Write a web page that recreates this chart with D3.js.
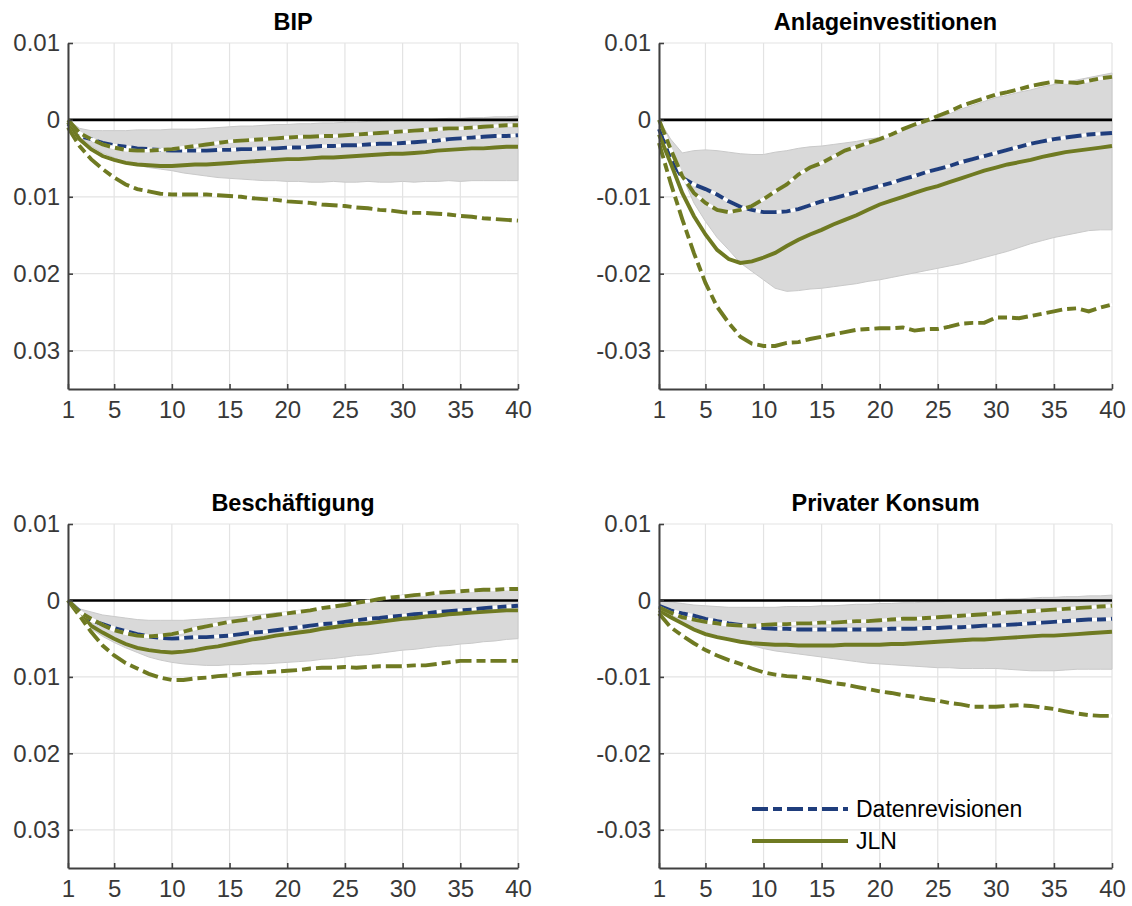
<!DOCTYPE html>
<html>
<head>
<meta charset="utf-8">
<script src="https://cdn.jsdelivr.net/npm/d3@7"></script>
<style>
body { margin: 0; background: #fff; }
svg text { font-family: "Liberation Sans", Arial, Helvetica, sans-serif; }
</style>
</head>
<body>
<svg id="chart" width="1132" height="906"></svg>
<script>
// Achsen und Beschriftungen
var horizons = d3.range(1, 41);
var xTicks = [1, 5, 10, 15, 20, 25, 30, 35, 40];
var yTicks = [0.01, 0, -0.01, -0.02, -0.03];
var yLabelsLeft = ["0.01", "0", "0.01", "0.02", "0.03"];
var yLabelsRight = ["0.01", "0", "-0.01", "-0.02", "-0.03"];
var titles = ["BIP", "Anlageinvestitionen", "Beschäftigung", "Privater Konsum"];
var legendLabels = ["Datenrevisionen", "JLN"];

// BIP
var bipBandUp = [0,-0.0011,-0.0014,-0.0014,-0.0014,-0.0014,-0.0013,-0.0013,-0.0013,-0.0012,-0.0012,-0.0012,-0.0011,-0.0010,-0.0009,-0.0008,-0.0008,-0.0007,-0.0006,-0.0006,-0.0005,-0.0005,-0.0004,-0.0004,-0.0003,-0.0003,-0.0002,-0.0002,-0.0001,-0.0001,0,0,0.0001,0.0002,0.0002,0.0003,0.0003,0.0004,0.0004,0.0005];
var bipBandLo = [0,-0.0021,-0.0034,-0.0043,-0.0049,-0.0056,-0.0059,-0.0062,-0.0064,-0.0066,-0.0069,-0.0071,-0.0073,-0.0075,-0.0076,-0.0077,-0.0078,-0.0079,-0.0079,-0.0080,-0.0080,-0.0081,-0.0081,-0.0080,-0.0081,-0.0081,-0.0080,-0.0081,-0.0081,-0.0080,-0.0081,-0.0080,-0.0080,-0.0079,-0.0080,-0.0079,-0.0079,-0.0079,-0.0079,-0.0079];
var bipDaten = [-0.0005,-0.0021,-0.0025,-0.0030,-0.0033,-0.0035,-0.0037,-0.0038,-0.0039,-0.0040,-0.0040,-0.0040,-0.0040,-0.0039,-0.0039,-0.0038,-0.0038,-0.0037,-0.0037,-0.0036,-0.0036,-0.0035,-0.0034,-0.0034,-0.0033,-0.0033,-0.0032,-0.0031,-0.0031,-0.0030,-0.0029,-0.0028,-0.0027,-0.0025,-0.0024,-0.0023,-0.0022,-0.0021,-0.0021,-0.0020];
var bipJln = [-0.0003,-0.0025,-0.0038,-0.0047,-0.0052,-0.0056,-0.0058,-0.0059,-0.0060,-0.0060,-0.0059,-0.0058,-0.0058,-0.0057,-0.0056,-0.0055,-0.0054,-0.0053,-0.0052,-0.0051,-0.0051,-0.0050,-0.0049,-0.0049,-0.0048,-0.0047,-0.0046,-0.0045,-0.0044,-0.0044,-0.0043,-0.0042,-0.0040,-0.0039,-0.0038,-0.0037,-0.0037,-0.0036,-0.0035,-0.0035];
var bipJlnUp = [0,-0.0017,-0.0025,-0.0032,-0.0036,-0.0039,-0.0040,-0.0040,-0.0039,-0.0038,-0.0036,-0.0034,-0.0032,-0.0030,-0.0028,-0.0027,-0.0026,-0.0025,-0.0024,-0.0023,-0.0022,-0.0022,-0.0021,-0.0021,-0.0020,-0.0019,-0.0018,-0.0017,-0.0016,-0.0015,-0.0014,-0.0013,-0.0012,-0.0011,-0.0011,-0.0010,-0.0009,-0.0008,-0.0007,-0.0007];
var bipJlnLo = [-0.0010,-0.0034,-0.0051,-0.0064,-0.0075,-0.0084,-0.0090,-0.0093,-0.0096,-0.0097,-0.0097,-0.0097,-0.0097,-0.0098,-0.0099,-0.0100,-0.0102,-0.0103,-0.0104,-0.0106,-0.0107,-0.0108,-0.0110,-0.0111,-0.0112,-0.0114,-0.0115,-0.0117,-0.0118,-0.0120,-0.0121,-0.0121,-0.0122,-0.0123,-0.0125,-0.0126,-0.0128,-0.0129,-0.0130,-0.0131];

// Anlageinvestitionen
var invBandUp = [0,-0.0025,-0.0043,-0.0040,-0.0039,-0.0040,-0.0042,-0.0044,-0.0045,-0.0045,-0.0042,-0.0040,-0.0037,-0.0035,-0.0034,-0.0032,-0.0030,-0.0028,-0.0025,-0.0023,-0.0019,-0.0014,-0.0008,-0.0003,0.0003,0.0008,0.0014,0.0019,0.0024,0.0029,0.0032,0.0036,0.0039,0.0043,0.0046,0.0049,0.0052,0.0055,0.0058,0.0061];
var invBandLo = [0,-0.0034,-0.0073,-0.0108,-0.0132,-0.0153,-0.0169,-0.0186,-0.0197,-0.0208,-0.0219,-0.0223,-0.0222,-0.0220,-0.0219,-0.0217,-0.0215,-0.0213,-0.0210,-0.0208,-0.0205,-0.0202,-0.0199,-0.0196,-0.0193,-0.0190,-0.0187,-0.0183,-0.0179,-0.0175,-0.0171,-0.0166,-0.0161,-0.0157,-0.0153,-0.0150,-0.0147,-0.0144,-0.0143,-0.0143];
var invDaten = [-0.0012,-0.0051,-0.0075,-0.0084,-0.0090,-0.0097,-0.0106,-0.0113,-0.0117,-0.0120,-0.0120,-0.0119,-0.0116,-0.0111,-0.0106,-0.0102,-0.0098,-0.0094,-0.0090,-0.0086,-0.0082,-0.0077,-0.0073,-0.0068,-0.0064,-0.0060,-0.0055,-0.0051,-0.0047,-0.0043,-0.0039,-0.0035,-0.0031,-0.0028,-0.0025,-0.0023,-0.0021,-0.0019,-0.0018,-0.0017];
var invJln = [-0.0019,-0.0056,-0.0095,-0.0125,-0.0149,-0.0169,-0.0181,-0.0186,-0.0184,-0.0179,-0.0173,-0.0164,-0.0156,-0.0149,-0.0143,-0.0136,-0.0130,-0.0124,-0.0117,-0.0110,-0.0105,-0.0100,-0.0095,-0.0090,-0.0086,-0.0081,-0.0076,-0.0071,-0.0066,-0.0062,-0.0058,-0.0055,-0.0052,-0.0048,-0.0045,-0.0042,-0.0040,-0.0038,-0.0036,-0.0034];
var invJlnUp = [0,-0.0038,-0.0073,-0.0095,-0.0108,-0.0117,-0.0120,-0.0117,-0.0112,-0.0103,-0.0093,-0.0084,-0.0071,-0.0062,-0.0056,-0.0048,-0.0040,-0.0035,-0.0030,-0.0025,-0.0019,-0.0012,-0.0006,-0.0001,0.0005,0.0011,0.0018,0.0023,0.0028,0.0033,0.0036,0.0040,0.0044,0.0047,0.0050,0.0049,0.0048,0.0051,0.0054,0.0056];
var invJlnLo = [-0.0030,-0.0082,-0.0129,-0.0173,-0.0212,-0.0243,-0.0264,-0.0282,-0.0291,-0.0294,-0.0294,-0.0290,-0.0289,-0.0285,-0.0282,-0.0279,-0.0276,-0.0273,-0.0272,-0.0271,-0.0271,-0.0270,-0.0274,-0.0272,-0.0272,-0.0269,-0.0265,-0.0264,-0.0264,-0.0257,-0.0257,-0.0258,-0.0255,-0.0252,-0.0249,-0.0246,-0.0245,-0.0249,-0.0244,-0.0240];

// Beschäftigung
var empBandUp = [0,-0.0011,-0.0015,-0.0019,-0.0021,-0.0023,-0.0025,-0.0026,-0.0026,-0.0026,-0.0026,-0.0025,-0.0024,-0.0023,-0.0022,-0.0021,-0.0019,-0.0018,-0.0016,-0.0015,-0.0013,-0.0012,-0.0010,-0.0009,-0.0007,-0.0004,-0.0001,0.0002,0.0005,0.0007,0.0008,0.0009,0.0010,0.0011,0.0012,0.0013,0.0014,0.0015,0.0016,0.0017];
var empBandLo = [0,-0.0020,-0.0037,-0.0047,-0.0055,-0.0062,-0.0068,-0.0074,-0.0078,-0.0081,-0.0083,-0.0084,-0.0085,-0.0085,-0.0084,-0.0084,-0.0083,-0.0083,-0.0082,-0.0081,-0.0080,-0.0079,-0.0077,-0.0076,-0.0074,-0.0072,-0.0071,-0.0069,-0.0067,-0.0065,-0.0064,-0.0062,-0.0060,-0.0059,-0.0057,-0.0056,-0.0054,-0.0053,-0.0051,-0.0050];
var empDaten = [0,-0.0014,-0.0026,-0.0031,-0.0036,-0.0040,-0.0044,-0.0047,-0.0049,-0.0050,-0.0049,-0.0048,-0.0048,-0.0047,-0.0046,-0.0044,-0.0042,-0.0041,-0.0039,-0.0037,-0.0035,-0.0033,-0.0031,-0.0030,-0.0028,-0.0026,-0.0024,-0.0023,-0.0021,-0.0020,-0.0018,-0.0017,-0.0015,-0.0014,-0.0013,-0.0012,-0.0010,-0.0009,-0.0008,-0.0007];
var empJln = [0,-0.0017,-0.0033,-0.0042,-0.0050,-0.0057,-0.0062,-0.0065,-0.0067,-0.0068,-0.0067,-0.0065,-0.0062,-0.0060,-0.0057,-0.0054,-0.0051,-0.0049,-0.0046,-0.0044,-0.0042,-0.0040,-0.0037,-0.0035,-0.0033,-0.0031,-0.0030,-0.0028,-0.0026,-0.0024,-0.0023,-0.0021,-0.0020,-0.0018,-0.0017,-0.0016,-0.0015,-0.0014,-0.0013,-0.0013];
var empJlnUp = [0,-0.0015,-0.0024,-0.0032,-0.0039,-0.0043,-0.0046,-0.0047,-0.0046,-0.0044,-0.0041,-0.0037,-0.0034,-0.0031,-0.0028,-0.0026,-0.0024,-0.0021,-0.0019,-0.0017,-0.0015,-0.0013,-0.0010,-0.0008,-0.0006,-0.0003,-0.0001,0.0002,0.0004,0.0005,0.0007,0.0008,0.0010,0.0011,0.0012,0.0013,0.0014,0.0014,0.0015,0.0015];
var empJlnLo = [0,-0.0020,-0.0041,-0.0059,-0.0072,-0.0082,-0.0089,-0.0096,-0.0101,-0.0104,-0.0104,-0.0102,-0.0101,-0.0099,-0.0098,-0.0096,-0.0095,-0.0094,-0.0093,-0.0092,-0.0091,-0.0089,-0.0088,-0.0088,-0.0087,-0.0088,-0.0087,-0.0086,-0.0086,-0.0086,-0.0085,-0.0085,-0.0083,-0.0081,-0.0079,-0.0079,-0.0079,-0.0079,-0.0079,-0.0079];

// Privater Konsum
var konBandUp = [0,-0.0002,-0.0004,-0.0006,-0.0007,-0.0008,-0.0009,-0.0009,-0.0009,-0.0009,-0.0009,-0.0008,-0.0008,-0.0008,-0.0007,-0.0007,-0.0006,-0.0005,-0.0005,-0.0004,-0.0004,-0.0003,-0.0003,-0.0002,-0.0002,-0.0001,-0.0001,0,0,0.0001,0.0002,0.0002,0.0003,0.0004,0.0004,0.0005,0.0005,0.0006,0.0006,0.0007];
var konBandLo = [-0.0005,-0.0019,-0.0031,-0.0039,-0.0045,-0.0049,-0.0052,-0.0055,-0.0059,-0.0063,-0.0066,-0.0068,-0.0070,-0.0072,-0.0074,-0.0076,-0.0078,-0.0080,-0.0082,-0.0083,-0.0084,-0.0085,-0.0086,-0.0087,-0.0088,-0.0088,-0.0089,-0.0089,-0.0089,-0.0089,-0.0090,-0.0091,-0.0092,-0.0092,-0.0092,-0.0091,-0.0090,-0.0090,-0.0090,-0.0090];
var konDaten = [-0.0007,-0.0013,-0.0017,-0.0020,-0.0024,-0.0027,-0.0030,-0.0032,-0.0034,-0.0036,-0.0037,-0.0037,-0.0038,-0.0038,-0.0038,-0.0038,-0.0038,-0.0038,-0.0038,-0.0038,-0.0037,-0.0037,-0.0037,-0.0036,-0.0036,-0.0035,-0.0035,-0.0034,-0.0033,-0.0033,-0.0032,-0.0031,-0.0030,-0.0029,-0.0028,-0.0027,-0.0026,-0.0025,-0.0025,-0.0024];
var konJln = [-0.0013,-0.0022,-0.0030,-0.0038,-0.0044,-0.0048,-0.0051,-0.0054,-0.0056,-0.0057,-0.0058,-0.0058,-0.0059,-0.0059,-0.0059,-0.0059,-0.0058,-0.0058,-0.0058,-0.0058,-0.0057,-0.0057,-0.0056,-0.0055,-0.0054,-0.0053,-0.0052,-0.0051,-0.0051,-0.0050,-0.0049,-0.0048,-0.0047,-0.0046,-0.0046,-0.0045,-0.0044,-0.0043,-0.0042,-0.0041];
var konJlnUp = [-0.0009,-0.0016,-0.0022,-0.0025,-0.0028,-0.0030,-0.0032,-0.0033,-0.0033,-0.0032,-0.0031,-0.0031,-0.0030,-0.0030,-0.0029,-0.0029,-0.0028,-0.0027,-0.0027,-0.0026,-0.0025,-0.0024,-0.0024,-0.0023,-0.0022,-0.0021,-0.0020,-0.0019,-0.0018,-0.0017,-0.0016,-0.0015,-0.0014,-0.0013,-0.0012,-0.0011,-0.0010,-0.0009,-0.0008,-0.0007];
var konJlnLo = [-0.0017,-0.0035,-0.0046,-0.0056,-0.0065,-0.0072,-0.0078,-0.0083,-0.0089,-0.0094,-0.0097,-0.0099,-0.0100,-0.0102,-0.0105,-0.0108,-0.0110,-0.0113,-0.0116,-0.0119,-0.0121,-0.0124,-0.0126,-0.0129,-0.0131,-0.0134,-0.0136,-0.0139,-0.0139,-0.0139,-0.0138,-0.0137,-0.0138,-0.0140,-0.0142,-0.0145,-0.0148,-0.0150,-0.0151,-0.0151];

var colDaten = "#1f3d7c";
var colJln = "#6f7a22";
var axisCol = "#404040";

// Panels: Position im Bild und zugehörige Reihen
var panels = [
    { title: titles[0], yLabels: yLabelsLeft, x0: 68, x1: 518, y0: 43, y1: 389,
      up: bipBandUp, lo: bipBandLo, daten: bipDaten, jln: bipJln, jlnUp: bipJlnUp, jlnLo: bipJlnLo },
    { title: titles[1], yLabels: yLabelsRight, x0: 659, x1: 1112, y0: 43, y1: 389,
      up: invBandUp, lo: invBandLo, daten: invDaten, jln: invJln, jlnUp: invJlnUp, jlnLo: invJlnLo },
    { title: titles[2], yLabels: yLabelsLeft, x0: 68, x1: 518, y0: 524, y1: 868,
      up: empBandUp, lo: empBandLo, daten: empDaten, jln: empJln, jlnUp: empJlnUp, jlnLo: empJlnLo },
    { title: titles[3], yLabels: yLabelsRight, x0: 659, x1: 1112, y0: 524, y1: 868,
      up: konBandUp, lo: konBandLo, daten: konDaten, jln: konJln, jlnUp: konJlnUp, jlnLo: konJlnLo }
];

var svg = d3.select("#chart");
var dash = "16,5,9,5";

panels.forEach(function (p, pi) {
    var x = d3.scaleLinear().domain([1, 40]).range([p.x0, p.x1]);
    var y = d3.scaleLinear().domain([-0.035, 0.01]).range([p.y1, p.y0]);
    var g = svg.append("g");

    // Gitter
    g.selectAll(".gx").data(xTicks).enter().append("line")
        .attr("x1", function (d) { return x(d); }).attr("x2", function (d) { return x(d); })
        .attr("y1", p.y0).attr("y2", p.y1)
        .attr("stroke", "#e3e3e3").attr("stroke-width", 1.2);
    g.selectAll(".gy").data(yTicks).enter().append("line")
        .attr("x1", p.x0).attr("x2", p.x1)
        .attr("y1", function (d) { return y(d); }).attr("y2", function (d) { return y(d); })
        .attr("stroke", "#e3e3e3").attr("stroke-width", 1.2);

    // Konfidenzband Datenrevisionen
    var area = d3.area()
        .x(function (d, i) { return x(horizons[i]); })
        .y0(function (d, i) { return y(p.lo[i]); })
        .y1(function (d) { return y(d); });
    g.append("path").datum(p.up).attr("d", area)
        .attr("fill", "#d9d9d9").attr("stroke", "#c9c9c9").attr("stroke-width", 1);

    // Nulllinie
    g.append("line").attr("x1", p.x0).attr("x2", p.x1)
        .attr("y1", y(0)).attr("y2", y(0))
        .attr("stroke", "#000").attr("stroke-width", 2.6);

    var line = d3.line()
        .x(function (d, i) { return x(horizons[i]); })
        .y(function (d) { return y(d); });

    function drawLine(values, color, dashed) {
        if (dashed) {
            g.append("path").datum(values).attr("d", line)
                .attr("fill", "none").attr("stroke", "#fff").attr("stroke-width", 3.2);
        }
        g.append("path").datum(values).attr("d", line)
            .attr("fill", "none").attr("stroke", color).attr("stroke-width", 3.9)
            .attr("stroke-dasharray", dashed ? dash : null);
    }
    drawLine(p.daten, colDaten, true);
    drawLine(p.jln, colJln, false);
    drawLine(p.jlnLo, colJln, true);
    drawLine(p.jlnUp, colJln, true);

    // Achsen
    var xAxis = d3.axisBottom(x).tickValues(xTicks).tickSize(-5).tickSizeOuter(0).tickPadding(12);
    var yAxis = d3.axisLeft(y).tickValues(yTicks).tickSize(-5).tickSizeOuter(0).tickPadding(8)
        .tickFormat(function (d, i) { return p.yLabels[i]; });

    var gx = g.append("g").attr("transform", "translate(0," + p.y1 + ")").call(xAxis);
    var gy = g.append("g").attr("transform", "translate(" + p.x0 + ",0)").call(yAxis);
    [gx, gy].forEach(function (a) {
        a.select(".domain").attr("stroke", axisCol).attr("stroke-width", 2);
        a.selectAll(".tick line").attr("stroke", axisCol).attr("stroke-width", 1.6);
        a.selectAll(".tick text").attr("fill", "#383838").style("font-size", "24px");
    });

    // Titel
    g.append("text").attr("x", (p.x0 + p.x1) / 2).attr("y", p.y0 - 13)
        .attr("text-anchor", "middle").style("font-size", "23.5px").style("font-weight", "bold")
        .attr("fill", "#000").text(p.title);
});

// Legende
var legend = svg.append("g").attr("transform", "translate(752,809)");
var legendItems = [
    { label: legendLabels[0], color: colDaten, dashed: true },
    { label: legendLabels[1], color: colJln, dashed: false }
];
legendItems.forEach(function (d, i) {
    var row = legend.append("g").attr("transform", "translate(0," + i * 32 + ")");
    row.append("line").attr("x1", 0).attr("x2", 96)
        .attr("stroke", d.color).attr("stroke-width", 3.9)
        .attr("stroke-dasharray", d.dashed ? dash : null);
    row.append("text").attr("x", 104).attr("dy", "0.35em")
        .style("font-size", "23px").attr("fill", "#000").text(d.label);
});
</script>
</body>
</html>
